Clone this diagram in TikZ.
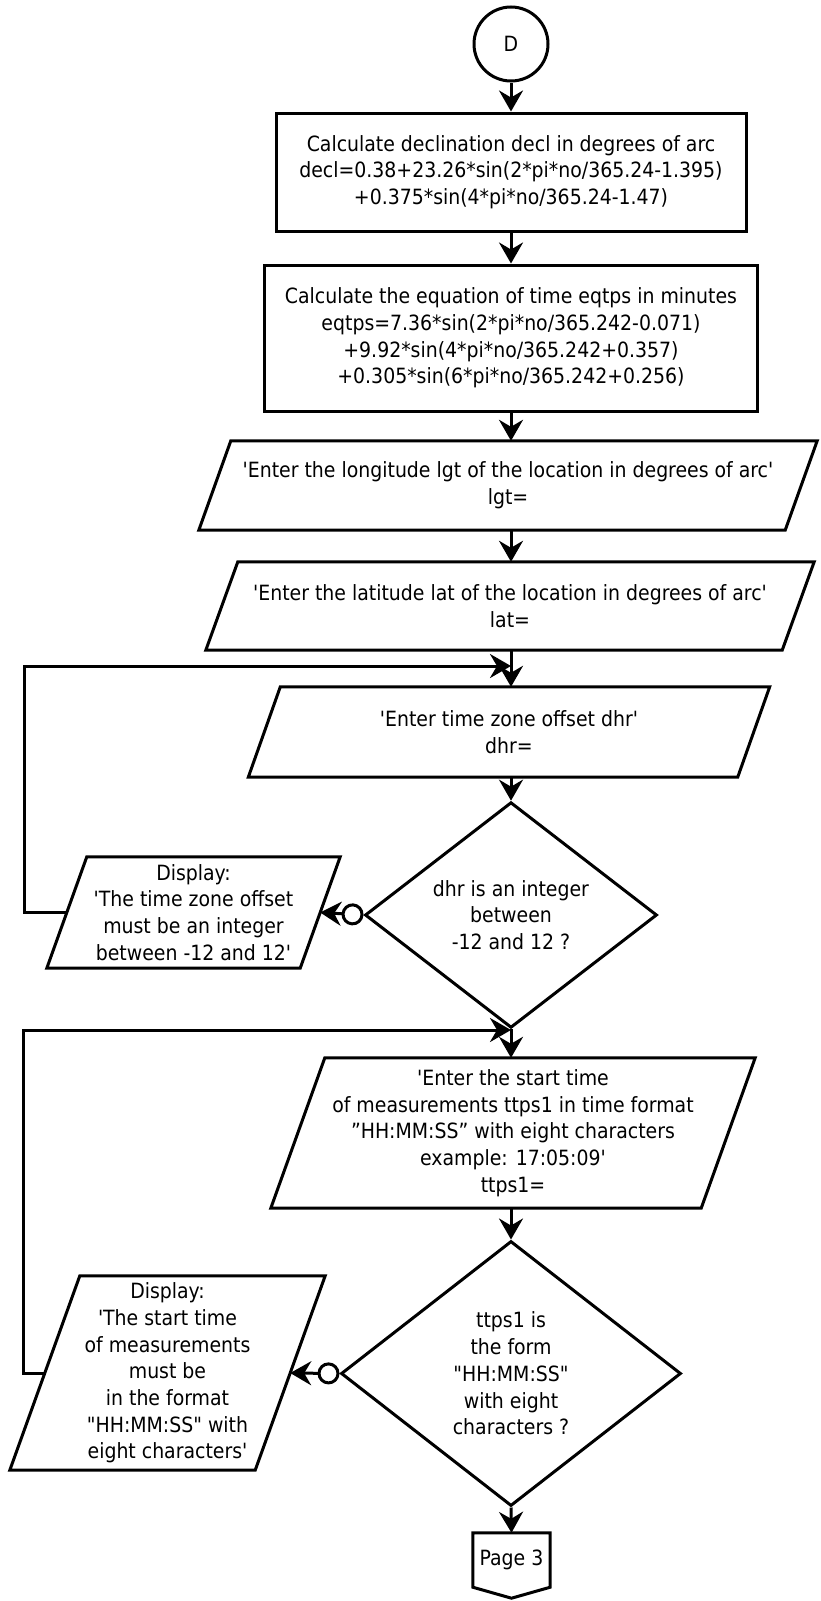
\documentclass[tikz,border=0pt]{standalone}
\usepackage{fontspec}
\setmainfont{DejaVu Sans Condensed}
\usetikzlibrary{arrows.meta,shapes.geometric}
% straight apostrophe and straight double quote
\newcommand\sq{\textquotesingle}
\newcommand\dq{\textquotedbl}
% outline of an input/output block around an (invisible) text node:
% #1 node name, #2 horizontal slant offset of the top/bottom edges
\newcommand\ioframe[2]{%
  \draw[lw3] ([xshift=#2]#1.north west) -- ([xshift=#2]#1.north east)
    -- ([xshift=-#2]#1.south east) -- ([xshift=-#2]#1.south west) -- cycle;}
\begin{document}
\begin{tikzpicture}[x=1pt,y=-1pt,
  lw3/.style={line width=3pt, line join=miter},
  txt/.style={font=\fontsize{21}{26.7}\selectfont, align=center, inner sep=0pt},
  proc/.style={txt, draw, lw3, rectangle},
  io/.style={txt, rectangle},
  dec/.style={txt, draw, lw3, diamond},
  tip/.style={Stealth[length=21pt,width=24pt,inset=7pt]},
  flow/.style={lw3, -{Stealth[length=21pt,width=24pt,inset=7pt]}},
  branch/.style={lw3, {Circle[open,length=22pt,width=22pt]}-{Stealth[length=21pt,width=24pt,inset=7pt]}}]
\useasboundingbox (0,0) rectangle (820,1601);

% entry connector
\node[txt, draw, lw3, circle, minimum size=74pt] (d) at (511,44) {D};

% computations
\node[proc, minimum width=470pt, minimum height=118pt] (c1) at (511,172)
  {Calculate declination decl in degrees of arc\\
   decl=0.38+23.26*sin(2*pi*no/365.24-1.395)\\
   +0.375*sin(4*pi*no/365.24-1.47)};
\node[proc, minimum width=493pt, minimum height=146pt] (c2) at (511,338)
  {Calculate the equation of time eqtps in minutes\\
   eqtps=7.36*sin(2*pi*no/365.242-0.071)\\
   +9.92*sin(4*pi*no/365.242+0.357)\\
   +0.305*sin(6*pi*no/365.242+0.256)};

% inputs
\node[io, minimum width=586pt, minimum height=89pt] (lgt) at (508,485.5)
  {\sq Enter the longitude lgt of the location in degrees of arc\sq\\lgt=};
\ioframe{lgt}{16pt}
\node[io, minimum width=576pt, minimum height=88pt] (lat) at (510,606)
  {\sq Enter the latitude lat of the location in degrees of arc\sq\\lat=};
\ioframe{lat}{16pt}
\node[io, minimum width=489pt, minimum height=90pt] (tz) at (509,732)
  {\sq Enter time zone offset dhr\sq\\dhr=};
\ioframe{tz}{16pt}

% time zone check
\node[dec, minimum width=292pt, minimum height=214pt] (q1) at (511,915)
  {dhr is an integer\\between\\-12 and 12 ?};
\node[io, minimum width=253pt, minimum height=111pt] (m1) at (193.5,912.5)
  {Display:\\\sq The time zone offset\\must be an integer\\between -12 and 12\sq};
\ioframe{m1}{20pt}

% start time input and check
\node[io, minimum width=430pt, minimum height=150pt] (st) at (513,1133)
  {\sq Enter the start time\\of measurements ttps1 in time format\\
   ”HH:MM:SS” with eight characters\\example: 17:05:09\sq\\ttps1=};
\ioframe{st}{27pt}
\node[dec, minimum width=340pt, minimum height=265pt] (q2) at (511,1373.5)
  {ttps1 is\\the form\\\dq HH:MM:SS\dq\\with eight\\characters ?};
\node[io, minimum width=245pt, minimum height=194pt] (m2) at (167.5,1373)
  {Display:\\\sq The start time\\of measurements\\must be\\in the format\\
   \dq HH:MM:SS\dq{} with\\eight characters\sq};
\ioframe{m2}{35pt}

% off-page connector
\node[txt, minimum width=77pt, minimum height=54pt] (p3) at (511.5,1560) {Page 3};
\draw[lw3] (p3.north west) -- (p3.north east) -- (p3.south east)
  -- ([yshift=-11pt]p3.south) -- (p3.south west) -- cycle;

% junctions of the retry loops with the main line
\coordinate (j1) at (511,666);
\coordinate (j2) at (511,1030);

% main flow
\draw[flow] (d.south) -- (c1.north);
\draw[flow] (c1.south) -- (c2.north);
\draw[flow] (c2.south) -- (lgt.north -| d);
\draw[flow] (lgt.south -| d) -- (lat.north -| d);
\draw[flow] (lat.south -| d) -- (tz.north -| d);
\draw[flow] (tz.south -| d) -- (q1.north);
\draw[flow] (q1.south) -- (st.north -| d);
\draw[flow] (st.south -| d) -- (q2.north);
\draw[flow] (q2.south) -- (p3.north);

% rejection branches and loops back
\draw[branch] (q1.west) -- (m1.east);
\draw[flow] (m1.west) -- ++(-42,0) |- (j1);
\draw[branch] (q2.west) -- (m2.east);
\draw[flow] (m2.west) -- ++(-21,0) |- (j2);
\end{tikzpicture}
\end{document}
